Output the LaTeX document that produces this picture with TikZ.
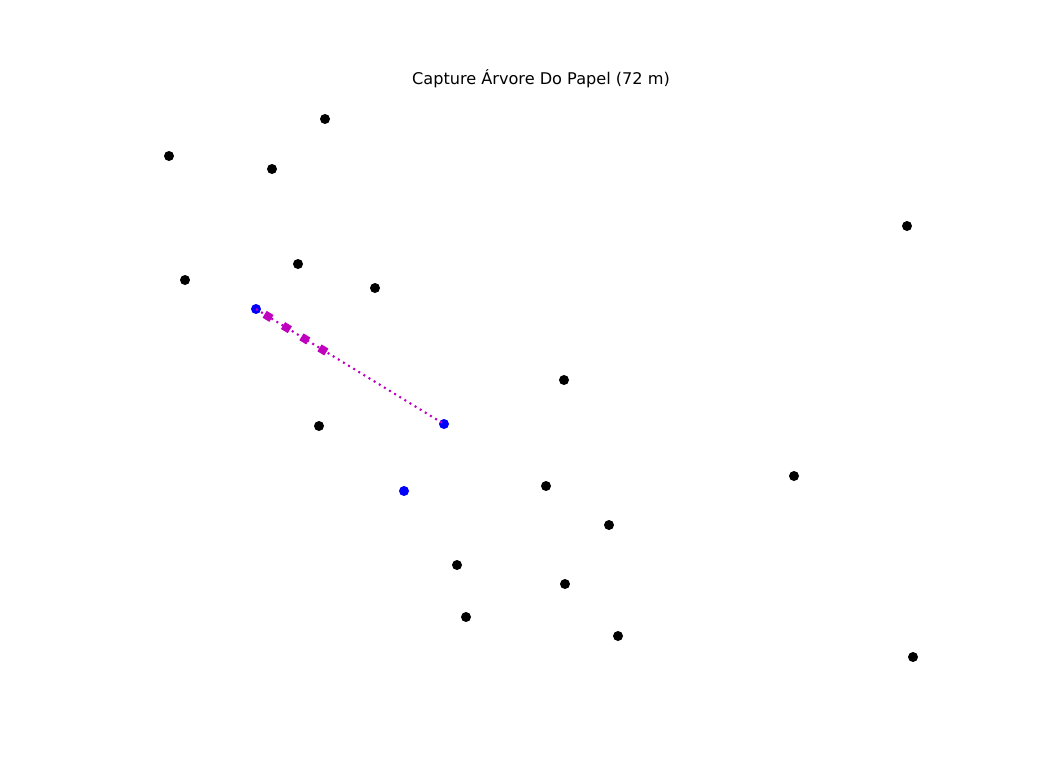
\documentclass[tikz,border=0pt]{standalone}
\usepackage{fontspec}
\setmainfont{DejaVu Sans}
\usetikzlibrary{positioning, calc}
\definecolor{mplmagenta}{RGB}{191, 0, 191}
\definecolor{mplblue}{RGB}{0, 0, 255}

\begin{document}
\begin{tikzpicture}[
    x=0.75pt, y=-0.75pt,
    every node/.style={font=\fontsize{12.1}{15}\selectfont},
    tree/.style={circle, fill=black, inner sep=0pt, minimum size=7.5pt},
    picked/.style={tree, fill=mplblue},
    marker/.style={rectangle, fill=mplmagenta, inner sep=0pt, minimum size=6pt, sloped},
    route/.style={mplmagenta, line width=1.6pt, dash pattern=on 1.5pt off 3pt}
]
\useasboundingbox (0,0) rectangle (1056,768);

% Title
\node (title) at (541,79) {Capture Árvore Do Papel (72 m)};

% Trees
\node[tree] (t1) at (325,119) {};
\node[tree] (t2) at (169,156) {};
\node[tree] (t3) at (272,169) {};
\node[tree] (t4) at (907,226) {};
\node[tree] (t5) at (185,280) {};
\node[tree] (t6) at (298,264) {};
\node[tree] (t7) at (375,288) {};
\node[tree] (t8) at (564,380) {};
\node[tree] (t9) at (319,426) {};
\node[tree] (t10) at (546,486) {};
\node[tree] (t11) at (794,476) {};
\node[tree] (t12) at (609,525) {};
\node[tree] (t13) at (457,565) {};
\node[tree] (t14) at (565,584) {};
\node[tree] (t15) at (466,617) {};
\node[tree] (t16) at (618,636) {};
\node[tree] (t17) at (913,657) {};

% Selected trees
\node[picked] (start) at (256,309) {};
\node[picked] (goal) at (444,424) {};
\node[picked] (other) at (404,491) {};

% Route
\draw[route] (start.center) -- (goal.center)
    \foreach \p in {0.064, 0.162, 0.260, 0.356} {node[marker, pos=\p] {}};

\end{tikzpicture}
\end{document}
